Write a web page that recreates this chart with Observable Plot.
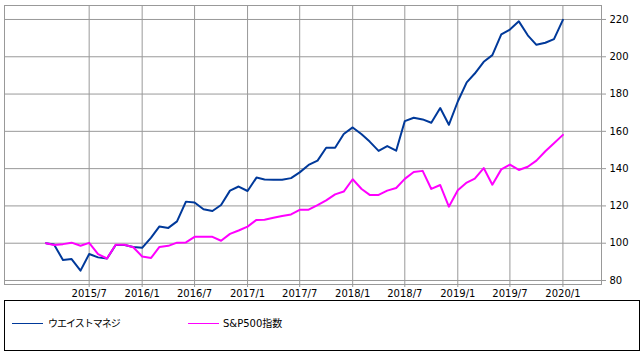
<!DOCTYPE html>
<html><head><meta charset="utf-8">
<script src="https://cdn.jsdelivr.net/npm/d3@7"></script>
<script src="https://cdn.jsdelivr.net/npm/@observablehq/plot@0.6"></script>
<style>
body{margin:0;background:#fff;font-family:"DejaVu Sans","Noto Sans CJK JP",sans-serif;}
#wrap{position:relative;width:642px;height:358px;background:#fff;}
#legend{position:absolute;left:4px;top:300px;width:636px;height:51px;border:1px solid #000;box-sizing:border-box;font-size:10px;color:#000;}
.sw{position:absolute;top:22px;height:1px;}
.lb{position:absolute;top:16px;line-height:13px;white-space:nowrap;}
</style>
</head><body>
<div id="wrap"><div id="chart"></div><div id="legend"></div></div>
<script>
const months = [
"2015/2","2015/3","2015/4","2015/5","2015/6","2015/7","2015/8","2015/9","2015/10","2015/11","2015/12",
"2016/1","2016/2","2016/3","2016/4","2016/5","2016/6","2016/7","2016/8","2016/9","2016/10","2016/11","2016/12",
"2017/1","2017/2","2017/3","2017/4","2017/5","2017/6","2017/7","2017/8","2017/9","2017/10","2017/11","2017/12",
"2018/1","2018/2","2018/3","2018/4","2018/5","2018/6","2018/7","2018/8","2018/9","2018/10","2018/11","2018/12",
"2019/1","2019/2","2019/3","2019/4","2019/5","2019/6","2019/7","2019/8","2019/9","2019/10","2019/11","2019/12",
"2020/1"];
const wealth = [
100,99.3,91,91.5,85.3,94.2,92.4,91.8,99,99,98,
97.5,103,109,108.2,111.7,122.3,121.8,118.2,117.3,120.5,128.2,130.4,
128,135.2,134.2,134,134,134.9,138,142,144.3,151.2,151.2,158.6,
162.1,158.4,154.5,149.5,152.1,149.6,165.5,167.3,166.4,164.6,172.5,163.5,
176,186.3,191,197.3,200.9,212,214.6,219,211.5,206.4,207.5,209.5,
219.8];
const sp500 = [
100,99,99.5,100.3,98.6,100.2,94.1,91.8,99.2,99.2,97.8,
92.9,92.1,98,98.6,100.3,100.4,103.4,103.5,103.4,101.3,105,106.8,
108.9,112.5,112.6,113.6,114.6,115.4,117.9,118,120.4,123,126.2,127.7,
134.3,129.1,125.9,125.9,128.2,129.6,134.5,138.2,138.8,129.1,131.2,119.6,
128.4,132.5,134.6,140.3,131.4,139.6,142.2,139.3,141,144.3,149.3,153.6,
158.1];
const seriesNames = ["ウエイストマネジ","S&P500指数"];
const seriesColors = ["#00399a","#ff00ff"];
const xTickLabels = ["2015/7","2016/1","2016/7","2017/1","2017/7","2018/1","2018/7","2019/1","2019/7","2020/1"];
const yTicks = [80,100,120,140,160,180,200,220];

const toDate = s => { const [y,m] = s.split("/").map(Number); return new Date(Date.UTC(y, m-1, 1)); };
const rows = [];
months.forEach((m,i) => {
  rows.push({date: toDate(m), value: wealth[i], series: seriesNames[0]});
  rows.push({date: toDate(m), value: sp500[i], series: seriesNames[1]});
});
const xTicks = xTickLabels.map(toDate);

const chart = Plot.plot({
  width: 642, height: 300,
  marginLeft: 4, marginRight: 41, marginTop: 5, marginBottom: 16,
  style: {fontFamily: '"DejaVu Sans","Noto Sans CJK JP",sans-serif', fontSize: "10px", background: "#fff", color: "#000"},
  x: {type: "utc", domain: [new Date(Date.UTC(2014,8,10)), new Date(Date.UTC(2020,4,14))]},
  y: {domain: [77.85, 227.5]},
  color: {domain: seriesNames, range: seriesColors},
  marks: [
    Plot.gridX(xTicks, {stroke: "#999", strokeOpacity: 1}),
    Plot.gridY(yTicks, {stroke: "#999", strokeOpacity: 1}),
    Plot.frame({stroke: "#999"}),
    Plot.axisX(xTicks, {tickSize: 3, tickPadding: 2, stroke: "#999", fill: "#000",
      tickFormat: d => `${d.getUTCFullYear()}/${d.getUTCMonth()+1}`, label: null}),
    Plot.axisY(yTicks, {anchor: "right", tickSize: 4, tickPadding: 4, stroke: "#999", fill: "#000", label: null}),
    Plot.line(rows, {x: "date", y: "value", z: "series", stroke: "series", strokeWidth: 2})
  ]
});
document.getElementById("chart").appendChild(chart);

const legend = document.getElementById("legend");
const pos = [{sw: 7, lb: 43}, {sw: 183, lb: 218}];
seriesNames.forEach((n,i) => {
  const s = document.createElement("div");
  s.className = "sw"; s.style.left = pos[i].sw + "px"; s.style.width = "31px"; s.style.background = seriesColors[i];
  legend.appendChild(s);
  const t = document.createElement("div");
  t.className = "lb"; t.style.left = pos[i].lb + "px"; t.textContent = n;
  if (i === 0) t.style.letterSpacing = "-1px";
  legend.appendChild(t);
});
</script>
</body></html>
